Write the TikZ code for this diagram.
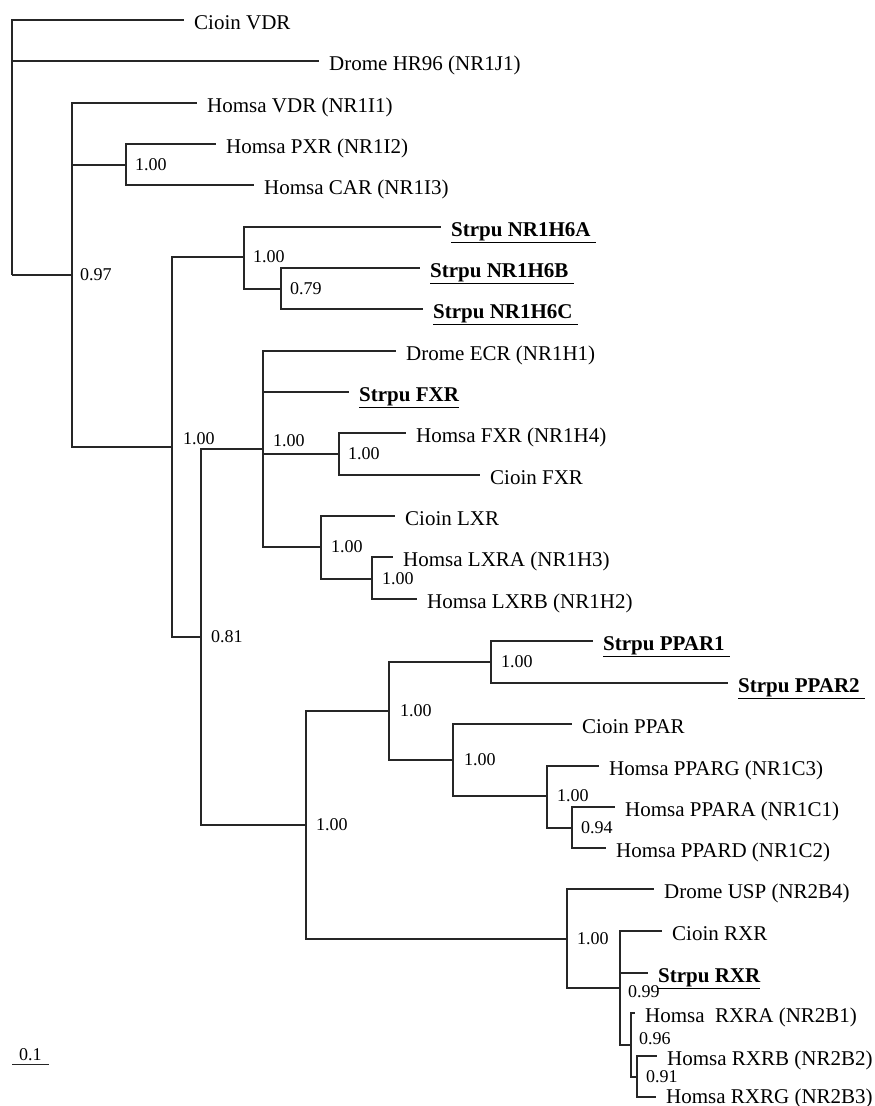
\documentclass[tikz,border=0pt]{standalone}
\usepackage{fontspec}
\setmainfont{Liberation Serif}
\usepackage{tikz}
\usetikzlibrary{positioning}

\begin{document}
\begin{tikzpicture}[
    x=1pt, y=-1pt,
    br/.style={line width=1.3pt, draw=black!85},
    leaf/.style={anchor=base west, inner sep=0pt, xshift=10pt, yshift=-9pt, font=\fontsize{21}{24}\selectfont},
    strp/.style={leaf, font=\fontsize{21}{24}\selectfont\bfseries},
    bs/.style={inner sep=0pt, font=\fontsize{18}{20}\selectfont}
]
\useasboundingbox (0,0) rectangle (875,1106);

% inner nodes of the tree
\coordinate (root) at (12,275);
\coordinate (A) at (72,275);
\coordinate (pc) at (126,165);
\coordinate (B) at (172,447);
\coordinate (h6) at (244,257);
\coordinate (h6bc) at (281,289);
\coordinate (D) at (201,637);
\coordinate (C) at (263,449);
\coordinate (fx) at (339,454);
\coordinate (lx) at (321,547);
\coordinate (lxab) at (372,579);
\coordinate (E) at (306,825);
\coordinate (F) at (389,711);
\coordinate (pp) at (491,662);
\coordinate (G) at (453,760);
\coordinate (H) at (547,796);
\coordinate (ad) at (572,828);
\coordinate (I) at (567,939);
\coordinate (J) at (620,988);
\coordinate (K) at (631,1045);
\coordinate (L) at (637,1077);

% branch tips
\coordinate (tVDRc) at (184,20);
\coordinate (tHR96) at (319,61);
\coordinate (tVDRh) at (197,103);
\coordinate (tPXR) at (216,144);
\coordinate (tCAR) at (254,185);
\coordinate (tH6A) at (441,227);
\coordinate (tH6B) at (420,268);
\coordinate (tH6C) at (423,309);
\coordinate (tECR) at (396,351);
\coordinate (tFXRs) at (349,392);
\coordinate (tFXRh) at (406,433);
\coordinate (tFXRc) at (480,475);
\coordinate (tLXRc) at (395,516);
\coordinate (tLXRA) at (393,557);
\coordinate (tLXRB) at (417,599);
\coordinate (tPPAR1) at (593,641);
\coordinate (tPPAR2) at (728,683);
\coordinate (tPPARc) at (572,724);
\coordinate (tPPARG) at (599,766);
\coordinate (tPPARA) at (615,807);
\coordinate (tPPARD) at (606,848);
\coordinate (tUSP) at (654,889);
\coordinate (tRXRc) at (662,931);
\coordinate (tRXRs) at (648,973);
\coordinate (tRXRA) at (635,1013);
\coordinate (tRXRB) at (657,1056);
\coordinate (tRXRG) at (656,1097);

% taxa
\node[leaf] (VDRc) at (tVDRc) {Cioin VDR};
\node[leaf] (HR96) at (tHR96) {Drome HR96 (NR1J1)};
\node[leaf] (VDRh) at (tVDRh) {Homsa VDR (NR1I1)};
\node[leaf] (PXR) at (tPXR) {Homsa PXR (NR1I2)};
\node[leaf] (CAR) at (tCAR) {Homsa CAR (NR1I3)};
\node[strp] (H6A) at (tH6A) {\underline{Strpu NR1H6A\ }};
\node[strp] (H6B) at (tH6B) {\underline{Strpu NR1H6B\ }};
\node[strp] (H6C) at (tH6C) {\underline{Strpu NR1H6C\ }};
\node[leaf] (ECR) at (tECR) {Drome ECR (NR1H1)};
\node[strp] (FXRs) at (tFXRs) {\underline{Strpu FXR}};
\node[leaf] (FXRh) at (tFXRh) {Homsa FXR (NR1H4)};
\node[leaf] (FXRc) at (tFXRc) {Cioin FXR};
\node[leaf] (LXRc) at (tLXRc) {Cioin LXR};
\node[leaf] (LXRA) at (tLXRA) {Homsa LXRA (NR1H3)};
\node[leaf] (LXRB) at (tLXRB) {Homsa LXRB (NR1H2)};
\node[strp] (PPAR1) at (tPPAR1) {\underline{Strpu PPAR1\ }};
\node[strp] (PPAR2) at (tPPAR2) {\underline{Strpu PPAR2\ }};
\node[leaf] (PPARc) at (tPPARc) {Cioin PPAR};
\node[leaf] (PPARG) at (tPPARG) {Homsa PPARG (NR1C3)};
\node[leaf] (PPARA) at (tPPARA) {Homsa PPARA (NR1C1)};
\node[leaf] (PPARD) at (tPPARD) {Homsa PPARD (NR1C2)};
\node[leaf] (USP) at (tUSP) {Drome USP (NR2B4)};
\node[leaf] (RXRc) at (tRXRc) {Cioin RXR};
\node[strp] (RXRs) at (tRXRs) {\underline{Strpu RXR}};
\node[leaf] (RXRA) at (tRXRA) {Homsa\ \ RXRA (NR2B1)};
\node[leaf] (RXRB) at (tRXRB) {Homsa RXRB (NR2B2)};
\node[leaf, yshift=2.5pt] (RXRG) at (tRXRG) {Homsa RXRG (NR2B3)};

% branches
\draw[br] (root) |- (tVDRc) (root) |- (tHR96) (root) -- (A);
\draw[br] (A) |- (tVDRh) (A) |- (pc) (A) |- (B);
\draw[br] (pc) |- (tPXR) (pc) |- (tCAR);
\draw[br] (B) |- (h6) (B) |- (D);
\draw[br] (h6) |- (tH6A) (h6) |- (h6bc);
\draw[br] (h6bc) |- (tH6B) (h6bc) |- (tH6C);
\draw[br] (D) |- (C) (D) |- (E);
\draw[br] (C) |- (tECR) (C) |- (tFXRs) (C) |- (fx) (C) |- (lx);
\draw[br] (fx) |- (tFXRh) (fx) |- (tFXRc);
\draw[br] (lx) |- (tLXRc) (lx) |- (lxab);
\draw[br] (lxab) |- (tLXRA) (lxab) |- (tLXRB);
\draw[br] (E) |- (F) (E) |- (I);
\draw[br] (F) |- (pp) (F) |- (G);
\draw[br] (pp) |- (tPPAR1) (pp) |- (tPPAR2);
\draw[br] (G) |- (tPPARc) (G) |- (H);
\draw[br] (H) |- (tPPARG) (H) |- (ad);
\draw[br] (ad) |- (tPPARA) (ad) |- (tPPARD);
\draw[br] (I) |- (tUSP) (I) |- (J);
\draw[br] (J) |- (tRXRc) (J) |- (tRXRs) (J) |- (K);
\draw[br] (K) |- (tRXRA) (K) |- (L);
\draw[br] (L) |- (tRXRB) (L) |- (tRXRG);

% posterior probabilities
\node[bs, right=8pt of A] (sA) {0.97};
\node[bs, right=9pt of pc] (spc) {1.00};
\node[bs, right=11pt of B, yshift=8pt] (sB) {1.00};
\node[bs, right=9pt of h6] (sh6) {1.00};
\node[bs, right=9pt of h6bc] (sh6bc) {0.79};
\node[bs, right=10pt of C, yshift=8pt] (sC) {1.00};
\node[bs, right=9pt of fx] (sfx) {1.00};
\node[bs, right=10pt of lx] (slx) {1.00};
\node[bs, right=10pt of lxab] (slxab) {1.00};
\node[bs, right=10pt of D] (sD) {0.81};
\node[bs, right=10pt of E] (sE) {1.00};
\node[bs, right=11pt of F] (sF) {1.00};
\node[bs, right=10pt of pp] (spp) {1.00};
\node[bs, right=11pt of G] (sG) {1.00};
\node[bs, right=10pt of H] (sH) {1.00};
\node[bs, right=9pt of ad] (sad) {0.94};
\node[bs, right=10pt of I] (sI) {1.00};
\node[bs, right=8pt of J, yshift=-4pt] (sJ) {0.99};
\node[bs, right=8pt of K, yshift=6pt] (sK) {0.96};
\node[bs, right=9pt of L] (sL) {0.91};

% scale bar
\coordinate (sb0) at (12,1064);
\coordinate (sb1) at (49,1064);
\draw[br, line width=1pt] (sb0) -- (sb1);
\path (sb0) -- (sb1) node[bs, midway, above=3pt] (sbl) {0.1};

\end{tikzpicture}
\end{document}
